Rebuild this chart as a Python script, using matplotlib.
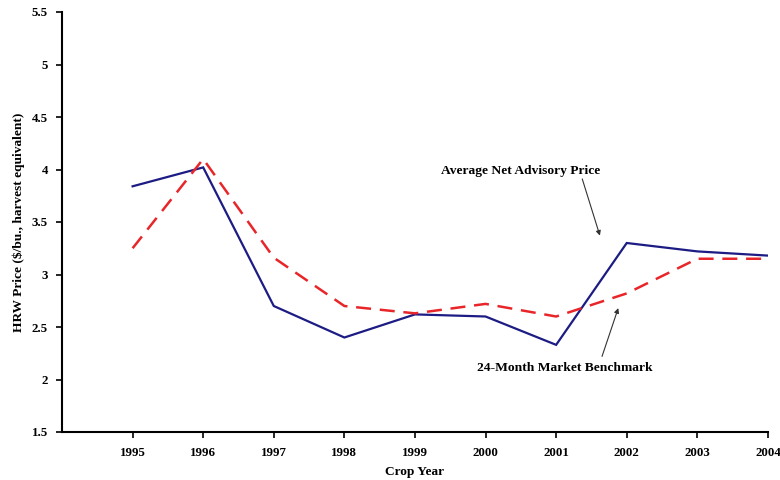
import matplotlib
matplotlib.use("Agg")
import matplotlib.pyplot as plt
from matplotlib.ticker import FuncFormatter

years = [1995, 1996, 1997, 1998, 1999, 2000, 2001, 2002, 2003, 2004]
advisory = [3.84, 4.02, 2.70, 2.40, 2.62, 2.60, 2.33, 3.30, 3.22, 3.18]
benchmark = [3.25, 4.10, 3.16, 2.70, 2.63, 2.72, 2.60, 2.82, 3.15, 3.15]
yticks = [1.5, 2, 2.5, 3, 3.5, 4, 4.5, 5, 5.5]

plt.rcParams['font.family'] = ['Liberation Serif', 'DejaVu Serif']

fig = plt.figure(figsize=(7.8, 4.8), dpi=100)
ax = fig.add_axes([0.0795, 0.1, 0.905, 0.875])

ax.plot(years, advisory, color='#1c1c84', lw=1.6, solid_joinstyle='miter')
ax.plot(years, benchmark, color='#e8262a', lw=1.8, dashes=(6, 3.5))

ax.set_xlim(1994, 2004)
ax.set_ylim(1.5, 5.5)
ax.set_xticks(years)
ax.set_xticklabels([str(y) for y in years])
ax.set_yticks(yticks)
ax.yaxis.set_major_formatter(FuncFormatter(lambda v, p: '%g' % v))

for s in ['top', 'right']:
    ax.spines[s].set_visible(False)
for s in ['left', 'bottom']:
    ax.spines[s].set_linewidth(1.5)
ax.tick_params(axis='both', direction='out', length=4, width=1.2, labelsize=9.3)
for lbl in ax.get_xticklabels() + ax.get_yticklabels():
    lbl.set_fontweight('bold')
ax.tick_params(axis='x', pad=7)
ax.tick_params(axis='y', pad=6)

ax.set_xlabel('Crop Year', fontsize=9.6, fontweight='bold', labelpad=5)
ax.set_ylabel('HRW Price ($/bu., harvest equivalent)', fontsize=9.6, fontweight='bold', labelpad=5)

arrow = dict(arrowstyle='-|>', color='#333333', lw=0.8, mutation_scale=7, shrinkA=0, shrinkB=0)
ax.text(2000.5, 3.99, 'Average Net Advisory Price', fontsize=9.7, fontweight='bold',
        ha='center', va='center')
ax.annotate('', xy=(2001.62, 3.37), xytext=(2001.37, 3.91), arrowprops=arrow)
ax.text(2001.12, 2.11, '24-Month Market Benchmark', fontsize=9.7, fontweight='bold',
        ha='center', va='center')
ax.annotate('', xy=(2001.88, 2.68), xytext=(2001.65, 2.22), arrowprops=arrow)

fig.savefig('out.png', dpi=100)
